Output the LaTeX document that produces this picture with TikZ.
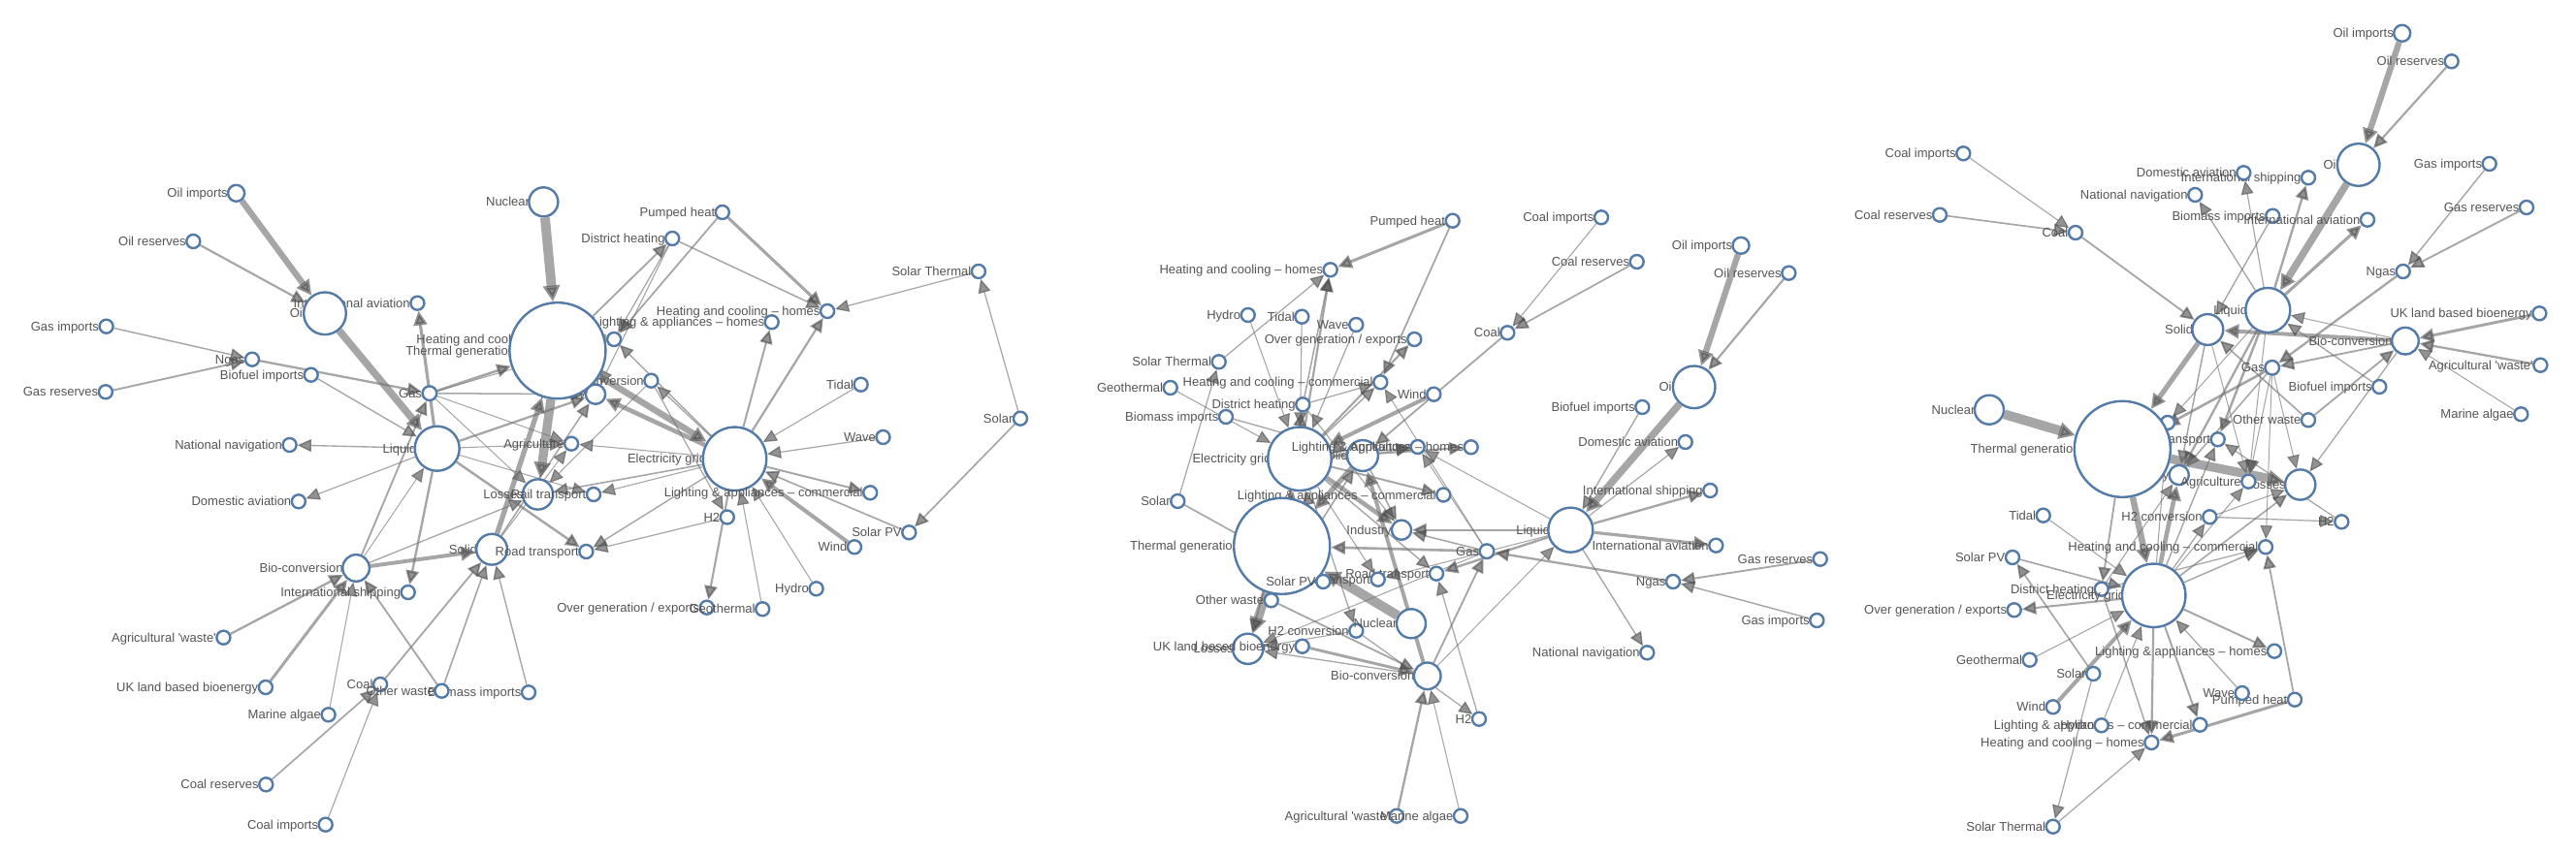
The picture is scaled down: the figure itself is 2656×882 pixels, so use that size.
\documentclass[tikz,border=0pt]{standalone}
\usepackage{fontspec}
\newfontfamily\lblfont{Liberation Sans}
\usetikzlibrary{arrows.meta}
\pgfdeclarelayer{bg}
\pgfsetlayers{bg,main}
\definecolor{nodeblue}{RGB}{84,122,168}
\definecolor{edgegray}{RGB}{112,112,112}
\definecolor{tipgray}{RGB}{80,80,80}
\definecolor{lblgray}{RGB}{85,85,85}
\makeatletter
\newcommand\ninfo[3]{\@namedef{nl@#1}{#2}\@namedef{nr@#1}{#3}}
\makeatother
\ninfo{agw}{Agricultural \textquotesingle waste\textquotesingle}{7}
\ninfo{bio}{Bio-conversion}{13.8}
\ninfo{liq}{Liquid}{23}
\ninfo{los}{Losses}{15.6}
\ninfo{sol}{Solid}{15.9}
\ninfo{gas}{Gas}{7.3}
\ninfo{bfi}{Biofuel imports}{7}
\ninfo{bmi}{Biomass imports}{7}
\ninfo{cim}{Coal imports}{7}
\ninfo{coa}{Coal}{7}
\ninfo{cre}{Coal reserves}{7}
\ninfo{dhe}{District heating}{7}
\ninfo{ind}{Industry}{10.1}
\ninfo{hcc}{Heating and cooling – commercial}{7}
\ninfo{hch}{Heating and cooling – homes}{7}
\ninfo{ele}{Electricity grid}{32.7}
\ninfo{ovg}{Over generation / exports}{7}
\ninfo{h2c}{H2 conversion}{7}
\ninfo{roa}{Road transport}{7}
\ninfo{agr}{Agriculture}{7}
\ninfo{rai}{Rail transport}{7}
\ninfo{lac}{Lighting \& appliances – commercial}{7}
\ninfo{lah}{Lighting \& appliances – homes}{7}
\ninfo{gim}{Gas imports}{7}
\ninfo{nga}{Ngas}{7}
\ninfo{gre}{Gas reserves}{7}
\ninfo{thg}{Thermal generation}{49.5}
\ninfo{geo}{Geothermal}{7}
\ninfo{hh}{H2}{7}
\ninfo{hyd}{Hydro}{7}
\ninfo{ish}{International shipping}{7}
\ninfo{dav}{Domestic aviation}{7}
\ninfo{iav}{International aviation}{7}
\ninfo{nna}{National navigation}{7}
\ninfo{mal}{Marine algae}{7}
\ninfo{nuc}{Nuclear}{15}
\ninfo{oim}{Oil imports}{8.5}
\ninfo{oil}{Oil}{21.8}
\ninfo{ore}{Oil reserves}{7}
\ninfo{owa}{Other waste}{7}
\ninfo{pum}{Pumped heat}{7}
\ninfo{spv}{Solar PV}{7}
\ninfo{sth}{Solar Thermal}{7}
\ninfo{sla}{Solar}{7}
\ninfo{tid}{Tidal}{7}
\ninfo{ukl}{UK land based bioenergy}{7}
\ninfo{wav}{Wave}{7}
\ninfo{win}{Wind}{7}
\def\glinks{agw/bio/124.7, bio/liq/0.6, bio/los/26.9, bio/sol/280.3, bio/gas/81.1, bfi/liq/35, bmi/sol/35, cim/coa/11.6, cre/coa/64, coa/sol/75.6, dhe/ind/10.6, dhe/hcc/22.5, dhe/hch/46.2, ele/ovg/104.5, ele/hch/113.7, ele/h2c/27.1, ele/ind/342.2, ele/roa/37.8, ele/agr/4.4, ele/hcc/40.9, ele/los/56.7, ele/rai/7.9, ele/lac/90, ele/lah/93.5, gim/nga/40.7, gre/nga/82.2, gas/hcc/0.1, gas/los/1.4, gas/thg/151.9, gas/agr/2.1, gas/ind/48.6, geo/ele/7, h2c/hh/20.9, h2c/los/6.2, hh/roa/20.9, hyd/ele/7, liq/ind/121.1, liq/ish/128.7, liq/roa/135.8, liq/dav/14.5, liq/iav/206.3, liq/agr/3.6, liq/nna/33.2, liq/rai/4.4, mal/bio/4.4, nga/gas/123, nuc/thg/840, oim/oil/504.3, ore/oil/107.7, oil/liq/612, owa/sol/56.6, owa/bio/77.8, pum/hch/193, pum/hcc/70.7, spv/ele/59.9, sth/hch/19.3, sla/spv/59.9, sla/sth/19.3, sol/agr/0.9, sol/thg/400.1, sol/ind/46.5, thg/ele/525.5, thg/los/787.1, thg/dhe/79.3, tid/ele/9.5, ukl/bio/182, wav/ele/19, win/ele/289.4}
\newcommand\gn[4]{%
  \edef\grr{\csname nr@#2\endcsname}%
  \pgfmathsetmacro\gdd{2*\grr*0.28453}%
  \pgfmathsetmacro\glx{#3-0.85*\grr-1}%
  \pgfmathsetmacro\gly{#4+4.5}%
  \node[lbl] at (\glx,\gly) {\csname nl@#2\endcsname};
  \node[gcirc, minimum size=\gdd pt] (#1#2) at (#3,#4) {};
}
\newcommand\gedges[1]{%
  \begin{pgfonlayer}{bg}
  \foreach \s/\t/\v in \glinks {%
    \pgfmathsetmacro\ew{0.2845*(1+\v/95)}%
    \draw[glink, line width=\ew pt] (#1\s) -- (#1\t);
  }
  \end{pgfonlayer}
}
\tikzset{
  gcirc/.style={circle, draw=nodeblue, fill=white, line width=0.68pt, inner sep=0pt},
  lbl/.style={font=\lblfont\fontsize{3.7pt}{4.4pt}\selectfont, text=lblgray, inner sep=0pt, anchor=base east},
  glink/.style={draw=edgegray, opacity=0.62, -{Triangle[length=3.9pt 0.3, width=3.5pt 0.45, color=tipgray]}}
}
\begin{document}
\begin{tikzpicture}[x=0.01cm,y=-0.01cm]
\begin{pgfonlayer}{bg}
\fill[white] (0,0) rectangle (2656,882);
\end{pgfonlayer}
\useasboundingbox (0,0) rectangle (2656,882);
% ---------------- graph A
\gn{A}{agw}{230.4}{657.7}
\gn{A}{bio}{367.1}{586}
\gn{A}{liq}{450.7}{462.7}
\gn{A}{los}{554.6}{510}
\gn{A}{sol}{507.1}{566.7}
\gn{A}{gas}{442.9}{405.7}
\gn{A}{bfi}{320.7}{386.7}
\gn{A}{bmi}{545}{714.3}
\gn{A}{cim}{335.7}{850.7}
\gn{A}{coa}{392.1}{706}
\gn{A}{cre}{274.3}{809.3}
\gn{A}{dhe}{693.2}{246}
\gn{A}{ind}{614}{406.7}
\gn{A}{hcc}{633.1}{350}
\gn{A}{hch}{853.1}{321}
\gn{A}{ele}{757.5}{473.3}
\gn{A}{ovg}{728.8}{626.7}
\gn{A}{h2c}{671.4}{392.7}
\gn{A}{roa}{604.4}{569}
\gn{A}{agr}{589.1}{457.7}
\gn{A}{rai}{612}{510}
\gn{A}{lac}{897.2}{508.3}
\gn{A}{lah}{795.7}{332.3}
\gn{A}{gim}{109.6}{336.7}
\gn{A}{nga}{260}{370.7}
\gn{A}{gre}{108.9}{404.3}
\gn{A}{thg}{574.9}{361.7}
\gn{A}{geo}{786.2}{628.3}
\gn{A}{hh}{749.8}{533.5}
\gn{A}{hyd}{841.6}{607.3}
\gn{A}{ish}{420.7}{611}
\gn{A}{dav}{307.9}{517.3}
\gn{A}{iav}{430.4}{312.7}
\gn{A}{nna}{298.6}{459}
\gn{A}{mal}{338.6}{737.3}
\gn{A}{nuc}{560.4}{208.3}
\gn{A}{oim}{243.6}{199.3}
\gn{A}{oil}{335}{323.3}
\gn{A}{ore}{199.3}{249}
\gn{A}{owa}{455.4}{712.7}
\gn{A}{pum}{744.8}{219}
\gn{A}{spv}{937.3}{549.3}
\gn{A}{sth}{1008.9}{280}
\gn{A}{sla}{1052}{431.7}
\gn{A}{tid}{887.6}{396.7}
\gn{A}{ukl}{273.9}{709}
\gn{A}{wav}{910.5}{451}
\gn{A}{win}{881}{564.3}
\gedges{A}
% ---------------- graph B
\gn{B}{agw}{1440}{841.7}
\gn{B}{bio}{1471.7}{697.3}
\gn{B}{liq}{1619.3}{546.7}
\gn{B}{los}{1286.7}{669.3}
\gn{B}{sol}{1405}{470}
\gn{B}{gas}{1533}{568.7}
\gn{B}{bfi}{1693.3}{420}
\gn{B}{bmi}{1264}{430}
\gn{B}{cim}{1651}{224.3}
\gn{B}{coa}{1554.3}{343.3}
\gn{B}{cre}{1687.7}{270}
\gn{B}{dhe}{1343.3}{417.3}
\gn{B}{ind}{1445}{546.7}
\gn{B}{hcc}{1423.3}{394.3}
\gn{B}{hch}{1371.7}{278.3}
\gn{B}{ele}{1340}{473.3}
\gn{B}{ovg}{1458.3}{350}
\gn{B}{h2c}{1398.3}{650.7}
\gn{B}{roa}{1481}{591.7}
\gn{B}{agr}{1461.7}{461}
\gn{B}{rai}{1420.7}{597.7}
\gn{B}{lac}{1488.3}{510.5}
\gn{B}{lah}{1516.7}{461.3}
\gn{B}{gim}{1873.3}{640}
\gn{B}{nga}{1725}{600}
\gn{B}{gre}{1876.7}{576.7}
\gn{B}{thg}{1321.7}{563.3}
\gn{B}{geo}{1206.7}{400}
\gn{B}{hh}{1525}{741.7}
\gn{B}{hyd}{1286.7}{325}
\gn{B}{ish}{1763.3}{506}
\gn{B}{dav}{1737.7}{456}
\gn{B}{iav}{1769.3}{562.7}
\gn{B}{nna}{1698.3}{673.3}
\gn{B}{mal}{1506}{841.7}
\gn{B}{nuc}{1455}{643.3}
\gn{B}{oim}{1795}{253.3}
\gn{B}{oil}{1746.7}{399.3}
\gn{B}{ore}{1844.3}{281.7}
\gn{B}{owa}{1310.7}{619.3}
\gn{B}{pum}{1497.7}{227.7}
\gn{B}{spv}{1364.3}{600}
\gn{B}{sth}{1256.7}{373.3}
\gn{B}{sla}{1214.3}{517}
\gn{B}{tid}{1342.3}{326.7}
\gn{B}{ukl}{1342.7}{666.7}
\gn{B}{wav}{1398.3}{335}
\gn{B}{win}{1478.3}{406.7}
\gedges{B}
% ---------------- graph C
\gn{C}{agw}{2619.3}{376.7}
\gn{C}{bio}{2480}{351.7}
\gn{C}{liq}{2338.3}{320}
\gn{C}{los}{2371.7}{500}
\gn{C}{sol}{2276.3}{340}
\gn{C}{gas}{2342.7}{379.3}
\gn{C}{bfi}{2453.3}{399}
\gn{C}{bmi}{2343.3}{222.7}
\gn{C}{cim}{2024.3}{158.3}
\gn{C}{coa}{2140}{240}
\gn{C}{cre}{2000}{221.7}
\gn{C}{dhe}{2166.7}{607.7}
\gn{C}{ind}{2246.7}{490}
\gn{C}{hcc}{2336}{564.3}
\gn{C}{hch}{2218.3}{766}
\gn{C}{ele}{2220.7}{614.3}
\gn{C}{ovg}{2076.7}{629.3}
\gn{C}{h2c}{2278.3}{533.3}
\gn{C}{roa}{2286.7}{453.3}
\gn{C}{agr}{2318.3}{496.7}
\gn{C}{rai}{2235}{436}
\gn{C}{lac}{2268.3}{747.7}
\gn{C}{lah}{2345}{671.7}
\gn{C}{gim}{2566.7}{169}
\gn{C}{nga}{2477.7}{280}
\gn{C}{gre}{2605}{214}
\gn{C}{thg}{2188.3}{463.3}
\gn{C}{geo}{2092.7}{680.7}
\gn{C}{hh}{2414.3}{538.3}
\gn{C}{hyd}{2166.7}{748.3}
\gn{C}{ish}{2380}{183.3}
\gn{C}{dav}{2313.3}{178.3}
\gn{C}{iav}{2441}{226.7}
\gn{C}{nna}{2263.3}{201}
\gn{C}{mal}{2599.3}{427.3}
\gn{C}{nuc}{2051}{422.7}
\gn{C}{oim}{2476.7}{34.3}
\gn{C}{oil}{2431.7}{170}
\gn{C}{ore}{2527.7}{63.3}
\gn{C}{owa}{2380}{433.3}
\gn{C}{pum}{2366}{721.7}
\gn{C}{spv}{2075}{575}
\gn{C}{sth}{2116.7}{852.7}
\gn{C}{sla}{2158.3}{695}
\gn{C}{tid}{2106.7}{531.7}
\gn{C}{ukl}{2618.3}{323.3}
\gn{C}{wav}{2311.7}{715}
\gn{C}{win}{2116.7}{729.3}
\gedges{C}
\end{tikzpicture}
\end{document}
